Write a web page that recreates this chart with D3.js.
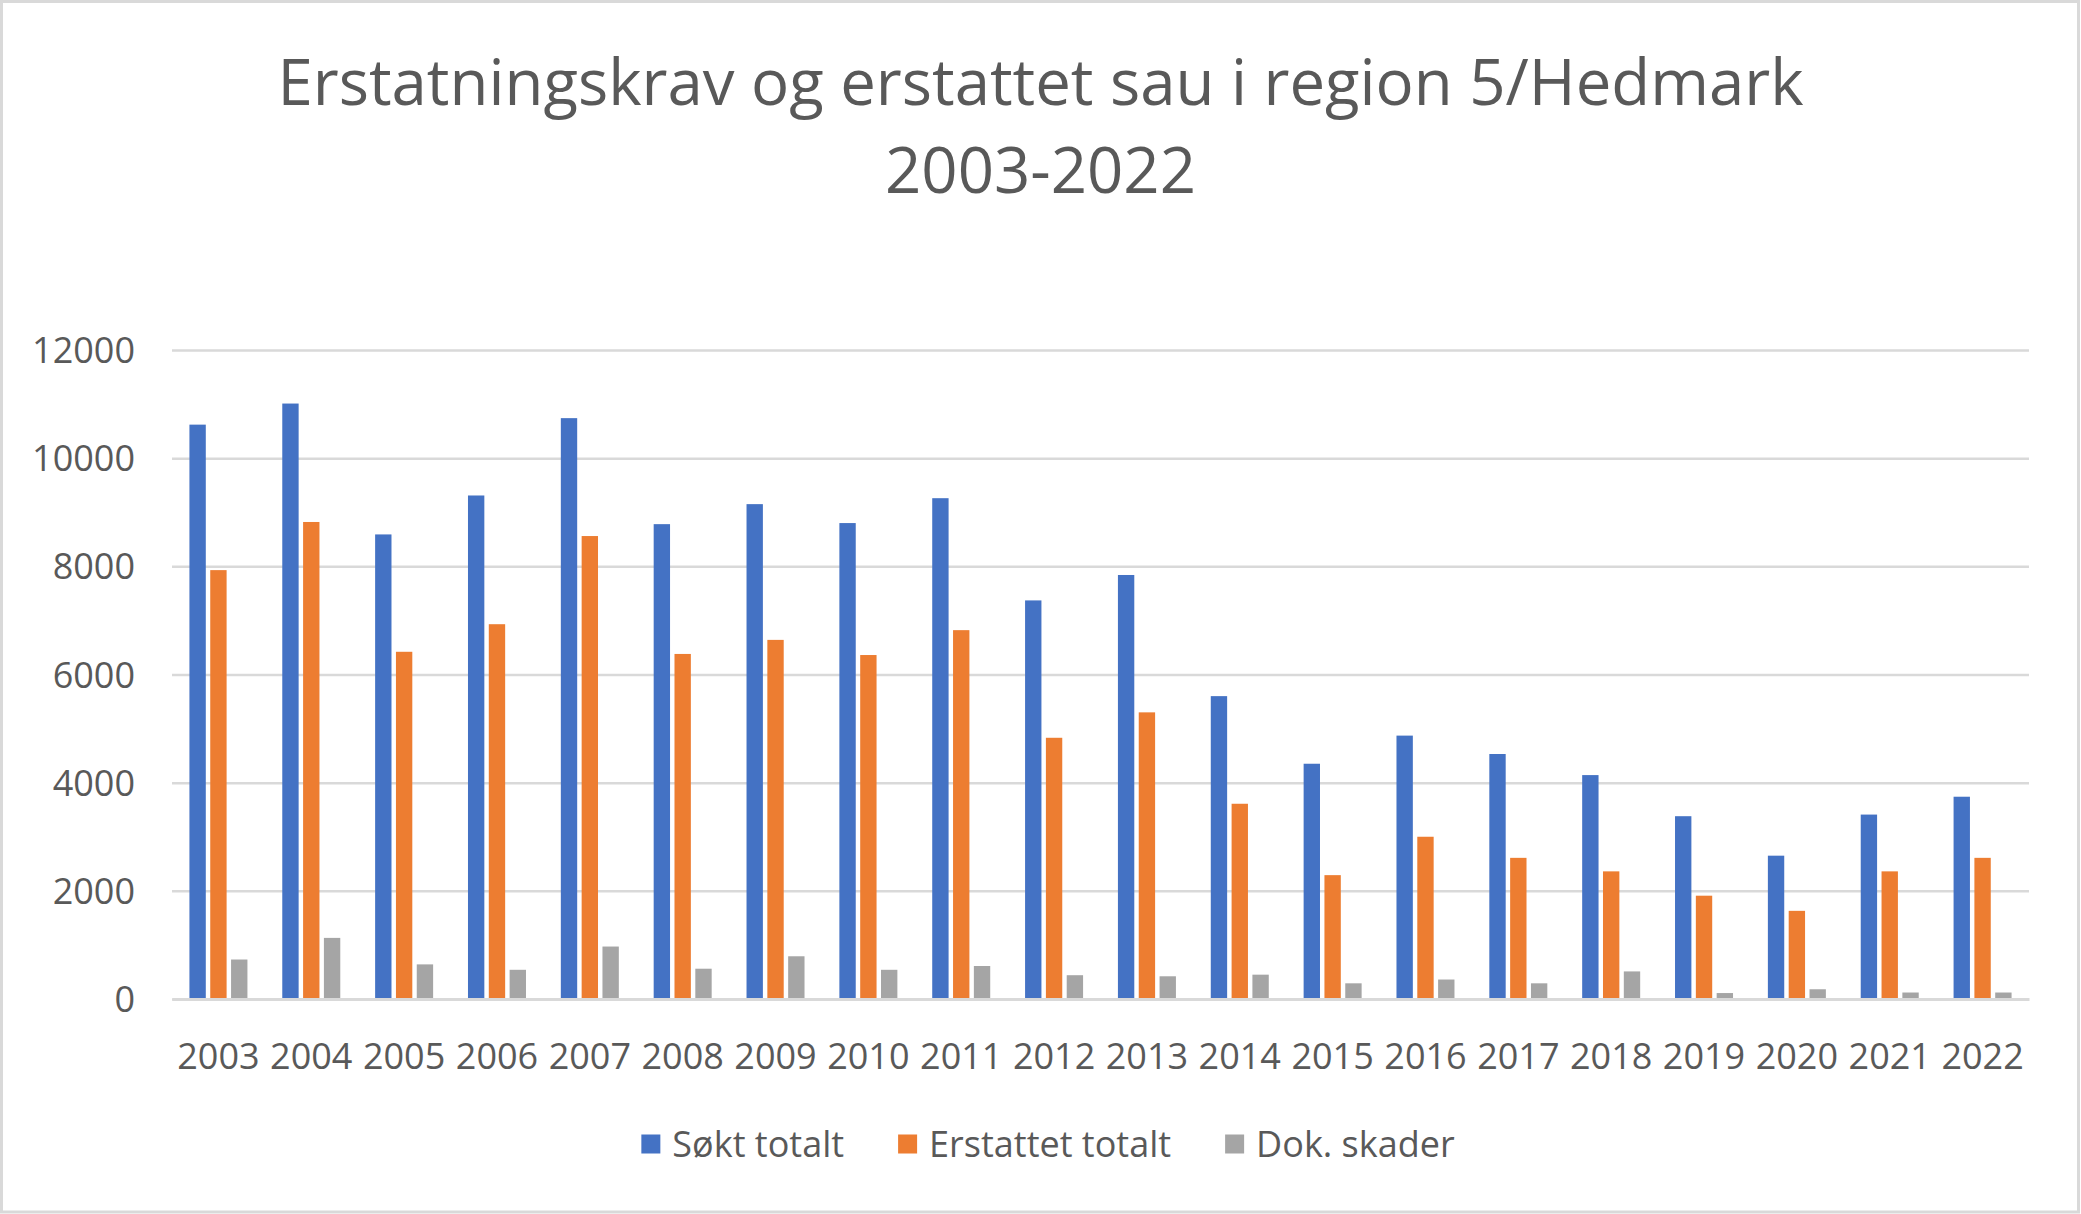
<!DOCTYPE html>
<html>
<head>
<meta charset="utf-8">
<script src="https://cdn.jsdelivr.net/npm/d3@7"></script>
<style>
  html, body { margin: 0; padding: 0; background: #fff; }
  svg { display: block; font-family: "Open Sans", sans-serif; }
</style>
</head>
<body>
<svg id="chart" width="2081" height="1214"></svg>
<script>
const years = ['2003', '2004', '2005', '2006', '2007', '2008', '2009', '2010', '2011', '2012',
  '2013', '2014', '2015', '2016', '2017', '2018', '2019', '2020', '2021', '2022'];
const soktTotalt = [10620, 11010, 8590, 9310, 10740, 8780, 9150, 8800, 9260, 7370,
  7840, 5600, 4350, 4870, 4530, 4140, 3380, 2650, 3410, 3740];
const erstattetTotalt = [7930, 8820, 6420, 6930, 8560, 6380, 6640, 6360, 6820, 4830,
  5300, 3610, 2290, 3000, 2610, 2360, 1910, 1630, 2360, 2610];
const dokSkader = [730, 1130, 640, 540, 970, 560, 790, 540, 610, 440,
  420, 450, 290, 360, 290, 510, 110, 180, 120, 120];
const yTicks = [0, 2000, 4000, 6000, 8000, 10000, 12000];
const seriesNames = ['Søkt totalt', 'Erstattet totalt', 'Dok. skader'];
const colors = ['#4472C4', '#ED7D31', '#A5A5A5'];
const titleLines = ['Erstatningskrav og erstattet sau i region 5/Hedmark', '2003-2022'];

const width = 2081;
const height = 1214;
const margin = { top: 350, right: 52, bottom: 215, left: 172 };
const textColor = '#595959';
const gridColor = '#D9D9D9';

const svg = d3.select('#chart');
const series = [soktTotalt, erstattetTotalt, dokSkader];

// chart area frame
svg.append('rect')
  .attr('x', 1.5).attr('y', 1.5)
  .attr('width', width - 4).attr('height', height - 3.5)
  .attr('fill', '#fff')
  .attr('stroke', gridColor)
  .attr('stroke-width', 3);

const x = d3.scaleBand()
  .domain(years)
  .range([margin.left, width - margin.right]);

const groupWidth = 58;
const xInner = d3.scaleBand()
  .domain(d3.range(series.length))
  .range([(x.bandwidth() - groupWidth) / 2, (x.bandwidth() + groupWidth) / 2])
  .paddingInner(0.214);

const y = d3.scaleLinear()
  .domain([0, 12000])
  .range([height - margin.bottom, margin.top]);

// gridlines + y labels
const yAxis = d3.axisLeft(y)
  .tickValues(yTicks)
  .tickFormat(d3.format('d'))
  .tickSize(-(width - margin.left - margin.right))
  .tickPadding(37);

const yg = svg.append('g')
  .attr('transform', `translate(${margin.left},0)`)
  .call(yAxis);
yg.select('.domain').remove();
yg.selectAll('.tick line')
  .attr('stroke', gridColor)
  .attr('stroke-width', 2.5);
yg.selectAll('.tick text')
  .attr('fill', textColor)
  .attr('font-size', 36)
  .attr('font-family', '"Open Sans", sans-serif')
  .attr('dy', '0.35em');

// bars
const groups = svg.append('g')
  .selectAll('g')
  .data(years)
  .join('g')
  .attr('transform', d => `translate(${x(d)},0)`);

groups.selectAll('rect')
  .data((d, i) => series.map((s, k) => ({ k, v: s[i] })))
  .join('rect')
  .attr('x', d => xInner(d.k))
  .attr('width', xInner.bandwidth())
  .attr('y', d => y(d.v))
  .attr('height', d => y(0) - y(d.v))
  .attr('fill', d => colors[d.k]);

// x axis
const xAxis = d3.axisBottom(x).tickSize(0).tickPadding(44);
const xg = svg.append('g')
  .attr('transform', `translate(0,${y(0)})`)
  .call(xAxis);
xg.select('.domain')
  .attr('stroke', gridColor)
  .attr('stroke-width', 3);
xg.selectAll('.tick text')
  .attr('fill', textColor)
  .attr('font-size', 36)
  .attr('font-family', '"Open Sans", sans-serif');

// title
svg.append('text')
  .attr('x', width / 2)
  .attr('text-anchor', 'middle')
  .attr('fill', textColor)
  .attr('font-size', 63.5)
  .selectAll('tspan')
  .data(titleLines)
  .join('tspan')
  .attr('x', width / 2)
  .attr('y', (d, i) => 105 + i * 88)
  .text(d => d);

// legend
const legend = svg.append('g');
const items = legend.selectAll('g')
  .data(seriesNames)
  .join('g');
items.append('rect')
  .attr('width', 19).attr('height', 19)
  .attr('y', -9.5)
  .attr('fill', (d, i) => colors[i]);
items.append('text')
  .attr('x', 31)
  .attr('dy', '0.35em')
  .attr('fill', textColor)
  .attr('font-size', 36)
  .text(d => d);

let offset = 0;
items.each(function () {
  const w = this.querySelector('text').getComputedTextLength();
  this._x = offset;
  offset += 31 + w + 54;
});
const legendWidth = offset - 54;
items.attr('transform', function () { return `translate(${this._x},0)`; });
legend.attr('transform', `translate(${1048 - legendWidth / 2},1144)`);
</script>
</body>
</html>
